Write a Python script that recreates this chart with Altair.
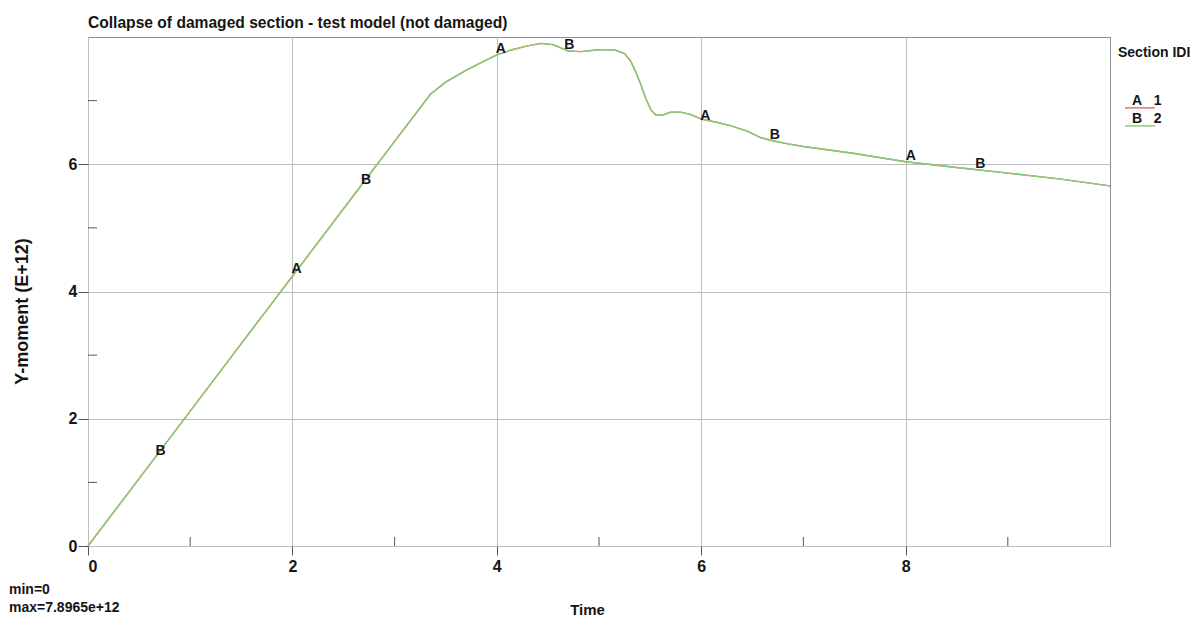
import altair as alt
import pandas as pd

# ---- data ----
time = [0, 0.5, 1, 1.5, 2, 2.5, 3, 3.35, 3.5, 3.68, 3.85, 4.0, 4.15, 4.3, 4.43,
        4.55, 4.7, 4.82, 5.0, 5.15, 5.25, 5.31, 5.36, 5.41, 5.46, 5.51, 5.56,
        5.62, 5.7, 5.8, 5.9, 6.0, 6.15, 6.3, 6.45, 6.58, 6.7, 6.85, 7.0, 7.5,
        8.0, 8.5, 9.0, 9.5, 10.0]
moment_1 = [0, 1.06, 2.12, 3.18, 4.24, 5.30, 6.36, 7.10, 7.29, 7.46, 7.60, 7.72,
            7.80, 7.86, 7.90, 7.88, 7.78, 7.77, 7.80, 7.80, 7.74, 7.62, 7.45,
            7.25, 7.02, 6.85, 6.77, 6.77, 6.82, 6.82, 6.78, 6.71, 6.66, 6.60,
            6.52, 6.42, 6.37, 6.32, 6.28, 6.17, 6.04, 5.95, 5.86, 5.77, 5.66]
moment_2 = [0, 1.06, 2.12, 3.18, 4.24, 5.30, 6.36, 7.10, 7.29, 7.46, 7.60, 7.72,
            7.80, 7.86, 7.90, 7.88, 7.78, 7.77, 7.80, 7.80, 7.74, 7.62, 7.45,
            7.25, 7.02, 6.85, 6.77, 6.77, 6.82, 6.82, 6.78, 6.71, 6.66, 6.60,
            6.52, 6.42, 6.37, 6.32, 6.28, 6.17, 6.04, 5.95, 5.86, 5.77, 5.66]
sections = ["1", "2"]
section_letters = ["A", "B"]
section_colors = ["#e06a6a", "#80cf70"]

label_a_time = [2.04, 4.04, 6.04, 8.05]
label_a_value = [4.35, 7.81, 6.76, 6.13]
label_b_time = [0.71, 2.72, 4.71, 6.72, 8.73]
label_b_value = [1.50, 5.75, 7.87, 6.46, 6.00]

x_major = [0, 2, 4, 6, 8]
x_minor = [1, 3, 5, 7, 9]
y_major = [0, 2, 4, 6]
y_minor = [1, 3, 5, 7]

summary_text = ["min=0", "max=7.8965e+12"]
title_text = "Collapse of damaged section - test model (not damaged)"

W, H = 1022, 509
FONT = "Liberation Sans"
TXT = "#151515"
NB = "\u00a0"

df = pd.DataFrame({
    "time": time + time,
    "moment": moment_1 + moment_2,
    "section": [sections[0]] * len(time) + [sections[1]] * len(time),
})
df_labels = pd.DataFrame({
    "time": label_a_time + label_b_time,
    "moment": label_a_value + label_b_value,
    "letter": [section_letters[0]] * len(label_a_time) + [section_letters[1]] * len(label_b_time),
})

xscale = alt.Scale(domain=[0, 10], nice=False, zero=False)
yscale = alt.Scale(domain=[0, 8], nice=False, zero=False)

x_axis = alt.Axis(values=x_major, title="Time", grid=True, gridColor="#bdbdbd",
                  domain=False, tickSize=9, tickColor="#555", labelFontSize=16,
                  labelFontWeight="bold", labelPadding=3, labelColor=TXT,
                  titleFontSize=15, titleFontWeight="bold", titleColor=TXT,
                  titlePadding=28, titleX=499, format="d")
y_axis = alt.Axis(values=y_major, title="Y-moment (E+12)", grid=True, gridColor="#bdbdbd",
                  domain=False, tickSize=10, tickColor="#555", labelFontSize=16,
                  labelFontWeight="bold", labelPadding=1, labelColor=TXT,
                  titleFontSize=18, titleFontWeight="bold", titleColor=TXT,
                  titlePadding=37, titleY=274, format="d")

label_a = section_letters[0] + NB * 3 + sections[0]
label_b = section_letters[1] + NB * 3 + sections[1]

lines = alt.Chart(df).mark_line(strokeWidth=1.4).encode(
    x=alt.X("time:Q", scale=xscale, axis=x_axis),
    y=alt.Y("moment:Q", scale=yscale, axis=y_axis),
    color=alt.Color(
        "section:N",
        scale=alt.Scale(domain=sections, range=section_colors),
        legend=alt.Legend(
            title="Section IDI", orient="none", legendX=1030, legendY=9,
            symbolType="M 0 2.3 L 10 2.3", symbolSize=36, symbolStrokeWidth=1.4,
            labelExpr=f"datum.label == '1' ? '{label_a}' : '{label_b}'",
            labelFontSize=14, labelFontWeight="bold", labelColor=TXT, labelOffset=0,
            titleFontSize=14, titleFontWeight="bold", titleColor=TXT, titlePadding=34,
            rowPadding=1, padding=0,
        ),
    ),
)

letters = alt.Chart(df_labels).mark_text(
    fontSize=14, fontWeight="bold", color=TXT, font=FONT, baseline="middle", align="center"
).encode(x=alt.X("time:Q", scale=xscale), y=alt.Y("moment:Q", scale=yscale), text="letter:N")

x_minor_ticks = alt.Chart(pd.DataFrame({"t": x_minor})).mark_rule(color="#555").encode(
    x=alt.X("t:Q", scale=xscale), y=alt.value(H), y2=alt.value(H - 9))
y_minor_ticks = alt.Chart(pd.DataFrame({"v": y_minor})).mark_rule(color="#555").encode(
    y=alt.Y("v:Q", scale=yscale), x=alt.value(0), x2=alt.value(9))

summary = alt.Chart(pd.DataFrame({"txt": ["\n".join(summary_text)]})).mark_text(
    align="left", baseline="top", fontSize=14, fontWeight="bold", color=TXT, font=FONT,
    lineBreak="\n", lineHeight=18,
).encode(x=alt.value(-79), y=alt.value(H + 37), text="txt:N")

chart = alt.layer(lines, letters, x_minor_ticks, y_minor_ticks, summary).properties(
    width=W, height=H,
    padding={"left": 1, "top": 8, "right": 0, "bottom": 0},
    title=alt.TitleParams(title_text, anchor="start", frame="group", fontSize=15.6,
                          fontWeight="bold", color=TXT, font=FONT, offset=5),
).configure(font=FONT).configure_view(stroke="#8c8c8c", strokeWidth=1)

chart.save("out.html", embed_options={"renderer": "svg", "actions": False})
